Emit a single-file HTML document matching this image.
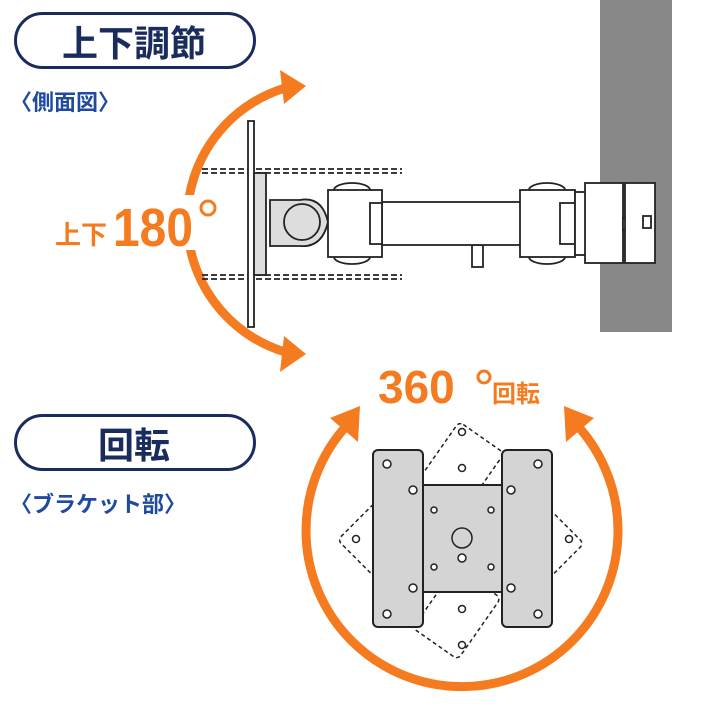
<!DOCTYPE html>
<html><head><meta charset="utf-8"><style>
html,body{margin:0;padding:0;background:#fff}
svg{display:block}
text{font-family:"Liberation Sans","Noto Sans CJK JP",sans-serif}
</style></head><body>
<svg width="720" height="720" viewBox="0 0 720 720" xmlns="http://www.w3.org/2000/svg">
<rect x="15.5" y="13.5" width="239" height="54" rx="27" fill="#fff" stroke="#1a2b5e" stroke-width="3"/>
<text x="134" y="56" font-size="36" font-weight="bold" fill="#1a2b5e" text-anchor="middle" font-family="Noto Sans CJK JP, sans-serif">上下調節</text>
<text x="10" y="110" font-size="22" font-weight="bold" fill="#1f4aa0" font-family="Noto Sans CJK JP, sans-serif">〈側面図〉</text>
<rect x="15.5" y="415.5" width="239" height="54" rx="27" fill="#fff" stroke="#1a2b5e" stroke-width="3"/>
<text x="134" y="458" font-size="36" font-weight="bold" fill="#1a2b5e" text-anchor="middle" font-family="Noto Sans CJK JP, sans-serif">回転</text>
<text x="10" y="512" font-size="22" font-weight="bold" fill="#1f4aa0" font-family="Noto Sans CJK JP, sans-serif">〈ブラケット部〉</text>

<rect x="600" y="0" width="72" height="332" fill="#888"/>

<path d="M285 88 A138 138 0 0 0 285 352" fill="none" stroke="#f47b20" stroke-width="9"/>
<polygon points="306,86 280,70 284,104" fill="#f47b20"/>
<polygon points="306,354 284,336 280,372" fill="#f47b20"/>
<rect x="50" y="195" width="175" height="55" fill="#fff"/>
<text x="55" y="244" font-size="26" font-weight="bold" fill="#f47b20" font-family="Noto Sans CJK JP, sans-serif">上下</text>
<text x="113" y="246" font-size="54" font-weight="bold" fill="#f47b20" textLength="80" lengthAdjust="spacingAndGlyphs">180</text>
<circle cx="208" cy="208" r="7" fill="none" stroke="#f47b20" stroke-width="3"/>

<g stroke="#222" stroke-width="1.8" fill="none">
<path d="M202 169H402M202 173H402M202 275H402M202 279H402" stroke-dasharray="6 3"/>
<rect x="248" y="121" width="6" height="206" fill="#fff"/>
<rect x="254" y="173" width="12" height="102" fill="#ddd"/>
<path d="M270 200H300Q322 196 328 222Q322 248 300 246H270Z" fill="#ddd"/>
<circle cx="302" cy="222" r="18" fill="#ddd"/>
<ellipse cx="352" cy="190" rx="18" ry="7" fill="#fff"/>
<ellipse cx="352" cy="257" rx="18" ry="7" fill="#fff"/>
<ellipse cx="547" cy="190" rx="18" ry="7" fill="#fff"/>
<ellipse cx="547" cy="257" rx="18" ry="7" fill="#fff"/>
<rect x="472" y="245" width="11" height="22" fill="#fff"/>
<rect x="375" y="202" width="190" height="43" fill="#fff"/>
<rect x="328" y="190" width="54" height="67" fill="#fff"/>
<rect x="370" y="203" width="12" height="41" fill="#fff"/>
<rect x="520" y="190" width="55" height="67" fill="#fff"/>
<rect x="560" y="203" width="15" height="41" fill="#fff"/>
<rect x="575" y="192" width="12" height="63" fill="#fff"/>
<rect x="585" y="183" width="38" height="80" fill="#fff"/>
<rect x="623" y="218" width="4" height="12" fill="#fff"/>
<rect x="625" y="183" width="30" height="80" fill="#fff"/>
<rect x="643" y="216" width="8" height="12" fill="#fff"/>
</g>

<path d="M352 420 A156 156 0 1 0 572 420" fill="none" stroke="#f47b20" stroke-width="9"/>
<polygon points="360,406 330,418 358,442" fill="#f47b20"/>
<polygon points="564,406 594,418 566,442" fill="#f47b20"/>
<text x="378" y="403" font-size="46" font-weight="bold" fill="#f47b20">360</text>
<circle cx="484" cy="377" r="6" fill="none" stroke="#f47b20" stroke-width="3"/>
<text x="492" y="402" font-size="24" font-weight="bold" fill="#f47b20" font-family="Noto Sans CJK JP, sans-serif">回転</text>

<g stroke="#222" stroke-width="1.5" fill="none" stroke-dasharray="4 3">
<rect x="432" y="432" width="55" height="75" rx="5" transform="rotate(35 462 470)"/>
<rect x="432" y="578" width="55" height="75" rx="5" transform="rotate(35 462 610)"/>
<rect x="350" y="515" width="60" height="55" rx="5" transform="rotate(45 380 540)"/>
<rect x="515" y="515" width="60" height="55" rx="5" transform="rotate(45 545 540)"/>
</g>
<g stroke="#222" stroke-width="2" fill="#d4d4d4">
<rect x="423" y="485" width="79" height="107"/>
<rect x="373" y="450" width="50" height="177" rx="5"/>
<rect x="502" y="450" width="50" height="177" rx="5"/>
</g>
<g stroke="#222" stroke-width="1.5" fill="#fff">
<circle cx="387" cy="464" r="4"/><circle cx="413" cy="490" r="4"/><circle cx="413" cy="588" r="4"/><circle cx="387" cy="614" r="4"/>
<circle cx="538" cy="464" r="4"/><circle cx="511" cy="490" r="4"/><circle cx="511" cy="588" r="4"/><circle cx="538" cy="614" r="4"/>
<circle cx="434" cy="510" r="3"/><circle cx="491" cy="510" r="3"/><circle cx="434" cy="567" r="3"/><circle cx="491" cy="567" r="3"/>
<circle cx="462" cy="432" r="3.5"/><circle cx="462" cy="468" r="3.5"/><circle cx="462" cy="609" r="3.5"/><circle cx="462" cy="645" r="3.5"/>
<circle cx="356" cy="539" r="3.5"/><circle cx="569" cy="539" r="3.5"/>
<circle cx="462" cy="538" r="10" fill="#d4d4d4"/><circle cx="462" cy="558" r="4"/>
</g>
</svg>
</body></html>
